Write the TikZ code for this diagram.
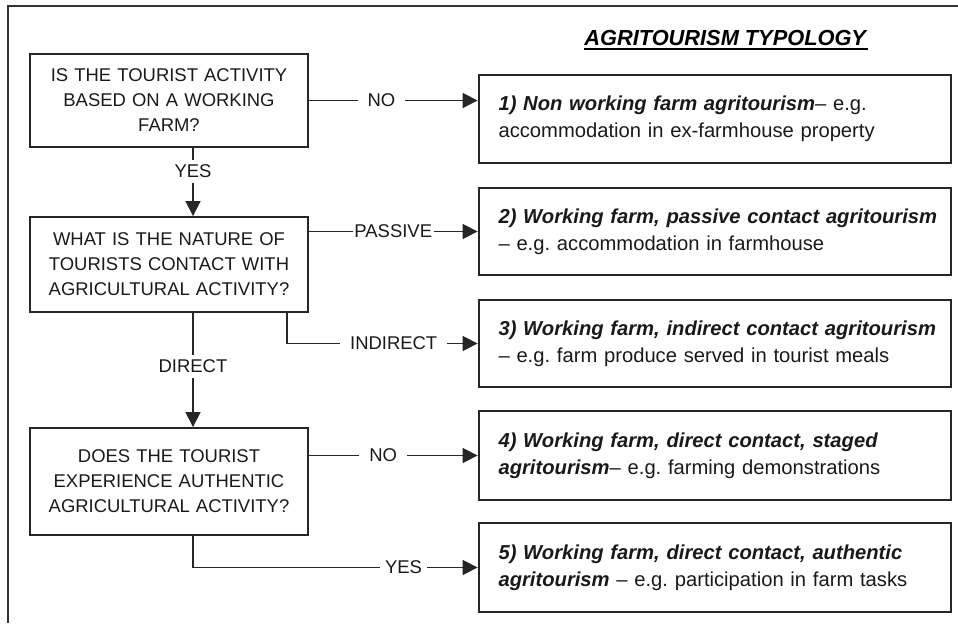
\documentclass[tikz,border=0pt]{standalone}
\usepackage{fontspec}
\setmainfont{Liberation Sans}
\frenchspacing
\usetikzlibrary{arrows.meta}
\newcommand{\thickul}[1]{\setbox0\hbox{#1}\rlap{\rule[-2.6pt]{\wd0}{1.1pt}}\box0}

\begin{document}
\begin{tikzpicture}
    \def\dx{0.02cm}
    \def\dy{-0.02cm}

    \useasboundingbox (0,0) rectangle (958*\dx,623*\dy);

    \tikzstyle{question}=[draw=black!85,line width=1.1pt,minimum width=5.56cm,text width=5.3cm,align=center,text=black!90,font=\fontsize{10.5}{14.2}\selectfont]
    \tikzstyle{type}=[draw=black!85,line width=1.1pt,minimum width=9.46cm,inner xsep=0.4cm,text width=8.66cm,align=left,text=black!90,font=\fontsize{11.5}{15.4}\selectfont]
    \tikzstyle{answer}=[fill=white,inner xsep=0.2cm,inner ysep=0.1cm,text=black!90,font=\fontsize{10.5}{12}\selectfont]

    % frame
    \draw [black!80, line width=0.6pt] (8*\dx,623*\dy) -- (8*\dx,6*\dy) -- (958*\dx,6*\dy);

    \node (title) at (726*\dx,40*\dy) {\fontsize{12.4}{14}\selectfont\thickul{\textbf{\textit{AGRITOURISM TYPOLOGY}}}};

    \node[question,minimum height=1.86cm] (q1) at (169*\dx,100.5*\dy) {IS THE TOURIST ACTIVITY\\BASED ON A WORKING\\FARM?};
    \node[question,minimum height=1.9cm]  (q2) at (169*\dx,264.5*\dy) {WHAT IS THE NATURE OF\\TOURISTS CONTACT WITH\\AGRICULTURAL ACTIVITY?};
    \node[question,minimum height=2.14cm] (q3) at (169*\dx,481.5*\dy) {DOES THE TOURIST\\EXPERIENCE AUTHENTIC\\AGRICULTURAL ACTIVITY?};

    \node[type,minimum height=1.76cm] (t1) at (715*\dx,119*\dy) {\mbox{\textbf{\textit{1) Non working farm agritourism}}-- e.g.}\\accommodation in ex-farmhouse property};
    \node[type,minimum height=1.74cm] (t2) at (715*\dx,231.5*\dy) {\mbox{\textbf{\textit{2) Working farm, passive contact agritourism}}}\\-- e.g. accommodation in farmhouse};
    \node[type,minimum height=1.74cm] (t3) at (715*\dx,343.5*\dy) {\mbox{\textbf{\textit{3) Working farm, indirect contact agritourism}}}\\-- e.g. farm produce served in tourist meals};
    \node[type,minimum height=1.78cm] (t4) at (715*\dx,455.5*\dy) {\textbf{\textit{4) Working farm, direct contact, staged}}\\\textbf{\textit{agritourism}}-- e.g. farming demonstrations};
    \node[type,minimum height=1.78cm] (t5) at (715*\dx,567.5*\dy) {\textbf{\textit{5) Working farm, direct contact, authentic}}\\\textbf{\textit{agritourism}} -- e.g. participation in farm tasks};

    \pgfsetarrowsend{Triangle[length=0.3cm,width=0.3cm]}
    \tikzstyle{fwd} = [draw=black!85, line width=1pt]

          \draw [fwd] (q1.east) -- node[answer,pos=0.43] (no1) {NO} (q1.east -| t1.west);
          \draw [fwd] ([xshift=24*\dx]q1.south) -- node[answer,pos=0.34] (yes1) {YES} ([xshift=24*\dx]q2.north);
          \draw [fwd] (t2.west -| q2.east) -- node[answer,inner xsep=0.03cm] (passive) {PASSIVE} (t2.west);
          \draw [fwd] ([xshift=-22*\dx]q2.south east) |- node[answer,pos=0.78] (indirect) {INDIRECT} (t3.west);
          \draw [fwd] ([xshift=24*\dx]q2.south) -- node[answer,pos=0.47] (direct) {DIRECT} ([xshift=24*\dx]q3.north);
          \draw [fwd] (t4.west -| q3.east) -- node[answer,pos=0.44] (no2) {NO} (t4.west);
          \draw [fwd] ([xshift=24*\dx]q3.south) |- node[answer,pos=0.87,inner xsep=0.1cm] (yes2) {YES} (t5.west);
  \end{tikzpicture}
\end{document}
